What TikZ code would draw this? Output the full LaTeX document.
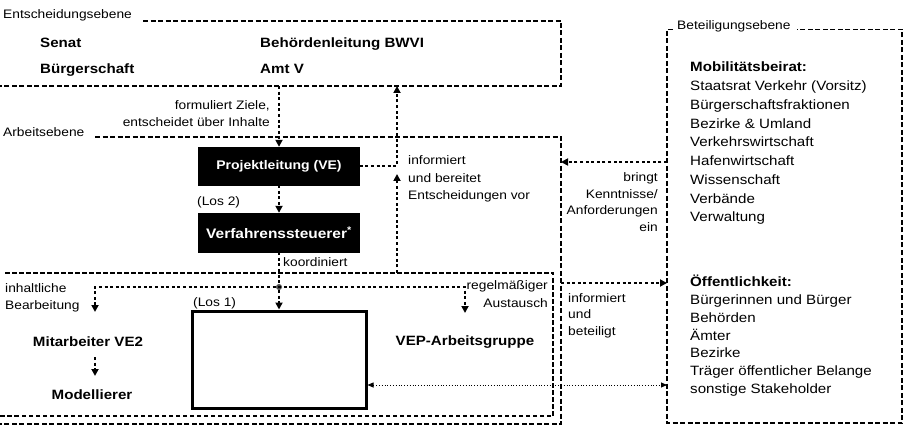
\documentclass[tikz,border=0pt]{standalone}
\usepackage{fontspec}
\setmainfont{Liberation Sans}[FakeStretch=1.12]
\usetikzlibrary{arrows.meta}
\begin{document}
\begin{tikzpicture}[x=1pt,y=-1pt,
  lbl/.style={inner sep=0pt, font=\fontsize{12.3}{14}\selectfont},
  big/.style={inner sep=0pt, font=\fontsize{13.5}{16}\selectfont\bfseries},
  lst/.style={inner sep=0pt, font=\fontsize{13.5}{16}\selectfont},
  frame/.style={line width=1.6pt, dash pattern=on 5pt off 2.5pt},
  inframe/.style={line width=1.2pt, dash pattern=on 4.5pt off 2.5pt},
  dots/.style={line width=2.6pt, dash pattern=on 3pt off 2.6pt},
  tip/.style={-{Triangle[length=7pt,width=7pt]}},
  blackbox/.style={fill=black, draw=black, text=white, font=\fontsize{12.5}{15}\selectfont\bfseries, minimum width=161pt, inner sep=0pt},
  losbox/.style={draw=black, line width=3pt, minimum width=174pt, minimum height=97pt, inner sep=0pt},
]
\useasboundingbox (0,0) rectangle (909,427);

% ---------- Entscheidungsebene ----------
\node[lbl, anchor=base west] (entlbl) at (3,19) {Entscheidungsebene};
\coordinate (e1) at (143,21);
\coordinate (e2) at (561,21);
\coordinate (e3) at (561,86);
\coordinate (e4) at (0,86);
\draw[frame] (e1) -- (e2) -- (e3) -- (e4);
\node[big, anchor=base west] (senat) at (40,48) {Senat};
\node[big, anchor=base west] (buerg) at (40,74) {Bürgerschaft};
\node[big, anchor=base west] (bwvi) at (260,48) {Behördenleitung BWVI};
\node[big, anchor=base west] (amtv) at (260,74) {Amt V};

% ---------- Arbeitsebene ----------
\node[lbl, anchor=base west] (arblbl) at (3,137) {Arbeitsebene};
\coordinate (a1) at (95,137);
\coordinate (a2) at (561,137);
\coordinate (a3) at (561,424);
\coordinate (a4) at (0,424);
\draw[frame] (a1) -- (a2) -- (a3) -- (a4);

% inner box
\coordinate (i1) at (5,273);
\coordinate (i2) at (553,273);
\coordinate (i3) at (553,416);
\coordinate (i4) at (0,416);
\draw[inframe] (i1) -- (i2) -- (i3) -- (i4);

% ---------- Beteiligungsebene ----------
\node[lbl, anchor=base west] (betlbl) at (677,30) {Beteiligungsebene};
\coordinate (b0) at (673,29.5);
\coordinate (b1) at (667,29.5);
\coordinate (b2) at (667,423);
\coordinate (b3) at (902,423);
\coordinate (b4) at (902,29.5);
\coordinate (b5) at (797,29.5);
\draw[frame] (b0) -- (b1) -- (b2) -- (b3) -- (b4) -- (b5);

\node[lst, anchor=base west] (mob0) at (690,72) {\bfseries Mobilitätsbeirat:};
\foreach \t [count=\i] in {Staatsrat Verkehr (Vorsitz), Bürgerschaftsfraktionen, Bezirke \& Umland, Verkehrswirtschaft, Hafenwirtschaft, Wissenschaft, Verbände, Verwaltung}
  \node[lst, anchor=base west] (mob\i) at (690,{72+18.75*\i}) {\t};

\node[lst, anchor=base west] (oef0) at (690,287) {\bfseries Öffentlichkeit:};
\foreach \t [count=\i] in {Bürgerinnen und Bürger, Behörden, Ämter, Bezirke, Träger öffentlicher Belange, sonstige Stakeholder}
  \node[lst, anchor=base west] (oef\i) at (690,{287+17.7*\i}) {\t};

% ---------- boxes ----------
\node[blackbox, minimum height=38pt] (pl) at (279,166) {Projektleitung (VE)};
\node[blackbox, minimum height=39pt, font=\fontsize{13.8}{15}\selectfont\bfseries] (vs) at (279,232.5) {Verfahrenssteuerer\textsuperscript{*}};
\node[lbl, anchor=base west] (los2) at (197,206) {(Los 2)};
\node[losbox] (los1) at (279,359.5) {};
\node[lbl, anchor=base west] (los1lbl) at (193,306) {(Los 1)};

% ---------- labels ----------
\node[lbl, anchor=base east] (fz1) at (270,110) {formuliert Ziele,};
\node[lbl, anchor=base east] (fz2) at (270,127) {entscheidet über Inhalte};
\node[lbl, anchor=base west] (inf1) at (408,165) {informiert};
\node[lbl, anchor=base west] (inf2) at (408,182.5) {und bereitet};
\node[lbl, anchor=base west] (inf3) at (408,200) {Entscheidungen vor};
\node[lbl, anchor=base east] (br1) at (658,182) {bringt};
\node[lbl, anchor=base east] (br2) at (658,198.5) {Kenntnisse/};
\node[lbl, anchor=base east] (br3) at (658,215) {Anforderungen};
\node[lbl, anchor=base east] (br4) at (658,231.5) {ein};
\node[lbl, anchor=base west] (ib1) at (568,302) {informiert};
\node[lbl, anchor=base west] (ib2) at (568,318.5) {und};
\node[lbl, anchor=base west] (ib3) at (568,335) {beteiligt};
\node[lbl, anchor=base west] (koord) at (283,267) {koordiniert};
\node[lbl, anchor=base west] (ib1x) at (5,292) {inhaltliche};
\node[lbl, anchor=base west] (ib2x) at (5,309.5) {Bearbeitung};
\node[lbl, anchor=base east] (rg1) at (548,290) {regelmäßiger};
\node[lbl, anchor=base east] (rg2) at (548,307) {Austausch};
\node[big, anchor=base] (mit) at (88,346) {Mitarbeiter VE2};
\node[big, anchor=base] (mod) at (92,399) {Modellierer};
\node[big, anchor=base] (vep) at (465,345) {VEP-Arbeitsgruppe};

% ---------- connectors ----------
\coordinate (ent1) at (279,86);
\coordinate (ent2) at (397,86);
\draw[dots, tip] (ent1) -- (pl.north);
\draw[dots, tip] (pl.south) -- (vs.north);
\node[circle, fill=black!70, inner sep=0pt, minimum size=6pt] (dot) at (279,287) {};
\draw[dots, tip] (vs.south) -- (dot) -- (los1.north);
\draw[dots, tip] (pl.east) -| (ent2);
\coordinate (up0) at (397,273);
\coordinate (up1) at (397,174);
\draw[dots, tip] (up0) -- (up1);

\coordinate (bl1) at (667,162);
\coordinate (ar1) at (561,162);
\draw[dots, tip] (bl1) -- (ar1);
\coordinate (ar2) at (561,283);
\coordinate (bl2) at (667,283);
\draw[dots, tip] (ar2) -- (bl2);

\coordinate (m1) at (95,312);
\coordinate (h1) at (95,287);
\coordinate (h2) at (465,287);
\coordinate (v1) at (465,313);
\draw[dots, {Triangle[length=7pt,width=7pt]}-{Triangle[length=7pt,width=7pt]}] (m1) -- (h1) -- (h2) -- (v1);

\coordinate (mm1) at (95,357);
\coordinate (mm2) at (95,376);
\draw[dots, tip] (mm1) -- (mm2);

\coordinate (bl3) at (667,385);
\draw[line width=0.8pt, dotted, {Triangle[length=6pt,width=5pt]}-{Triangle[length=6pt,width=5pt]}] (los1.east |- bl3) -- (bl3);
\end{tikzpicture}
\end{document}
